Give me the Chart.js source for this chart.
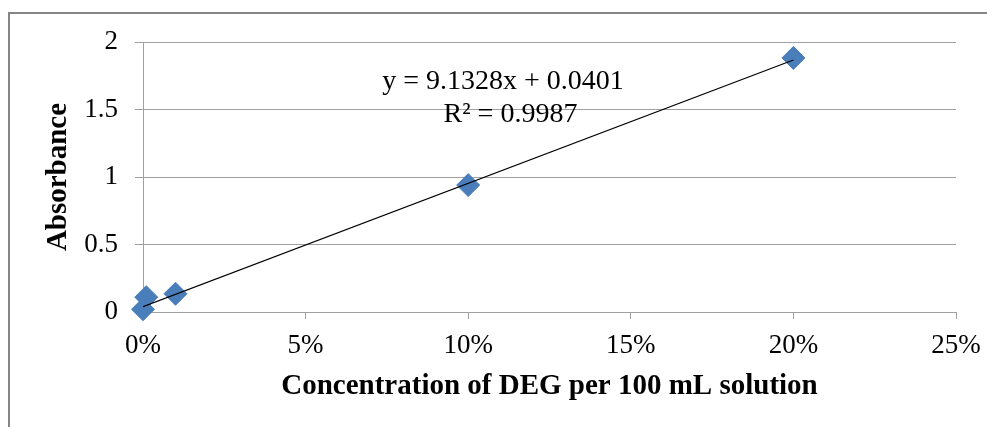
<!DOCTYPE html>
<html>
<head>
<meta charset="utf-8">
<script src="https://cdn.jsdelivr.net/npm/chart.js@4/dist/chart.umd.min.js"></script>
<style>
    html, body { margin: 0; padding: 0; background: #fff; }
    #wrap { position: relative; width: 987px; height: 427px; overflow: hidden; }
    #frame { position: absolute; left: 8px; top: 12px; width: 1100px; height: 600px; border: 2px solid #858585; }
    #chartCanvas { position: absolute; left: 0; top: 0; }
</style>
</head>
<body>
<div id="wrap">
    <div id="frame"></div>
    <canvas id="chartCanvas" width="987" height="427"></canvas>
</div>
<script>
// datos
const concentration = [0, 0.001, 0.01, 0.1, 0.2];
const absorbance = [0.02, 0.11, 0.135, 0.94, 1.882];

// linea de tendencia (Excel)
const slope = 9.1328;
const intercept = 0.0401;
const equationLines = ["y = 9.1328x + 0.0401", "R² = 0.9987"];

const xTicks = [0, 0.05, 0.1, 0.15, 0.2, 0.25];
const yTicks = [0, 0.5, 1, 1.5, 2];

const serif = "'Liberation Serif', 'Times New Roman', serif";

const points = concentration.map((c, i) => ({ x: c, y: absorbance[i] }));
const xMin = Math.min(...concentration);
const xMax = Math.max(...concentration);
const trend = [xMin, xMax].map(x => ({ x: x, y: slope * x + intercept }));

// texto de la ecuacion, anclado en coordenadas de datos
const equationPlugin = {
    id: "equation",
    afterDatasetsDraw(chart) {
        const ctx = chart.ctx;
        const xs = chart.scales.x;
        const ys = chart.scales.y;
        ctx.save();
        ctx.font = "28px " + serif;
        ctx.fillStyle = "#000";
        ctx.textAlign = "center";
        ctx.textBaseline = "middle";
        ctx.fillText(equationLines[0], xs.getPixelForValue(0.1107), ys.getPixelForValue(1.71));
        ctx.fillText(equationLines[1], xs.getPixelForValue(0.113), ys.getPixelForValue(1.46));
        ctx.restore();
    }
};

const chart = new Chart(document.getElementById("chartCanvas").getContext("2d"), {
    type: "scatter",
    data: {
        datasets: [{
            label: "Linear",
            data: trend,
            type: "line",
            showLine: true,
            borderColor: "#000",
            borderWidth: 1.2,
            pointRadius: 0,
            fill: false,
            order: 0
        }, {
            label: "Absorbance",
            data: points,
            pointStyle: "rectRot",
            pointRadius: 11.5,
            pointHoverRadius: 11.5,
            backgroundColor: "#4a7ebb",
            borderColor: "#4a7ebb",
            borderWidth: 1,
            clip: false,
            order: 1
        }]
    },
    options: {
        responsive: false,
        animation: false,
        layout: { padding: { left: 0, top: 42, right: 31, bottom: 0 } },
        plugins: {
            legend: { display: false },
            tooltip: { enabled: false }
        },
        scales: {
            x: {
                type: "linear",
                min: 0,
                max: 0.25,
                afterBuildTicks: s => { s.ticks = xTicks.map(v => ({ value: v })); },
                afterFit: s => {
                    s.height = 115;
                    s.paddingLeft = 0;
                    s.paddingRight = 0;
                },
                ticks: {
                    padding: 11,
                    color: "#000",
                    font: { family: serif, size: 27 },
                    callback: v => Math.round(v * 100) + "%"
                },
                grid: {
                    drawOnChartArea: false,
                    drawTicks: true,
                    tickLength: 7,
                    color: "#a0a0a0"
                },
                border: { color: "#a0a0a0", width: 1 },
                title: {
                    display: true,
                    text: "Concentration of DEG per 100 mL solution",
                    color: "#000",
                    font: { family: serif, size: 29, weight: "bold", lineHeight: 1.2 },
                    padding: { top: 0, bottom: 23 }
                }
            },
            y: {
                min: 0,
                max: 2,
                afterBuildTicks: s => { s.ticks = yTicks.map(v => ({ value: v })); },
                afterFit: s => {
                    s.width = 143;
                    s.paddingTop = 0;
                    s.paddingBottom = 0;
                },
                ticks: {
                    padding: 17,
                    color: "#000",
                    font: { family: serif, size: 27 },
                    callback: v => String(v)
                },
                grid: {
                    drawOnChartArea: true,
                    drawTicks: true,
                    tickLength: 8,
                    color: "#a0a0a0"
                },
                border: { color: "#a0a0a0", width: 1 },
                title: {
                    display: true,
                    text: "Absorbance",
                    color: "#000",
                    font: { family: serif, size: 29, weight: "bold", lineHeight: 1.2 },
                    padding: { top: 41, bottom: 0 }
                }
            }
        }
    },
    plugins: [equationPlugin]
});
</script>
</body>
</html>
